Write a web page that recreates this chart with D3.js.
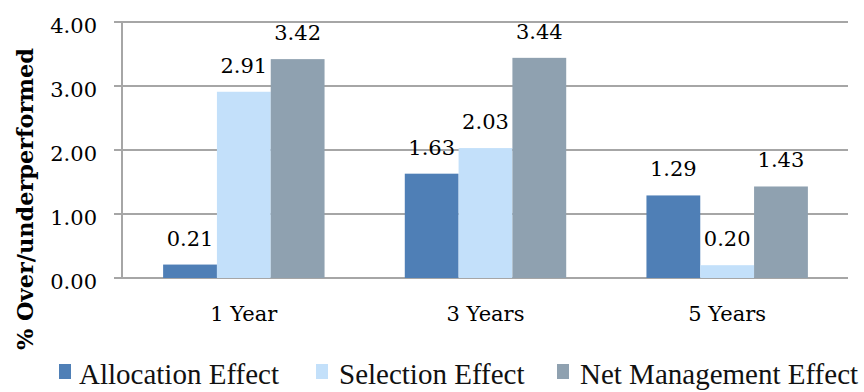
<!DOCTYPE html>
<html>
<head>
<meta charset="utf-8">
<script src="https://cdn.jsdelivr.net/npm/d3@7"></script>
<style>
  html, body { margin: 0; padding: 0; background: #fff; }
  svg { display: block; }
</style>
</head>
<body>
<svg id="chart" width="864" height="392"></svg>
<script>
const categories = ["1 Year", "3 Years", "5 Years"];
const seriesNames = ["Allocation Effect", "Selection Effect", "Net Management Effect"];
const allocation = [0.21, 1.63, 1.29];
const selection = [2.91, 2.03, 0.20];
const netManagement = [3.42, 3.44, 1.43];
const yTicks = [0, 1, 2, 3, 4];
const yTitle = "% Over/underperformed";

const colors = ["#4f7fb6", "#c3e0fa", "#8fa1b0"];
const seriesValues = [allocation, selection, netManagement];

const svg = d3.select("#chart");
const plotLeft = 123, plotRight = 848, plotTop = 22, plotBottom = 278;
const font = "'DejaVu Serif', serif";
const legendFont = "'Liberation Serif', 'Times New Roman', serif";

const x0 = d3.scaleBand().domain(categories).range([plotLeft, plotRight]).paddingInner(0).paddingOuter(0);
const bw = x0.bandwidth();
const x1 = d3.scaleBand().domain(seriesNames).range([bw * 0.166, bw * 0.834]).padding(0);
const y = d3.scaleLinear().domain([0, 4]).range([plotBottom, plotTop]);

// gridlines
svg.append("g").selectAll("line").data(yTicks).join("line")
  .attr("x1", 114).attr("x2", plotRight)
  .attr("y1", d => y(d)).attr("y2", d => y(d))
  .attr("stroke", "#a6a6a6").attr("stroke-width", 2);

// vertical axis line
svg.append("line").attr("x1", plotLeft - 1).attr("x2", plotLeft - 1)
  .attr("y1", y(4) - 1).attr("y2", y(0) + 1)
  .attr("stroke", "#a6a6a6").attr("stroke-width", 2);

// tick labels
svg.append("g").selectAll("text").data(yTicks).join("text")
  .attr("x", 97).attr("y", d => y(d) + 11)
  .attr("text-anchor", "end")
  .attr("font-family", font).attr("font-size", 21).attr("fill", "#000")
  .text(d => d3.format(".2f")(d));

// bars
const rows = categories.map((c, i) => ({ cat: c, vals: seriesNames.map((s, j) => ({ s, j, v: seriesValues[j][i] })) }));
const groups = svg.append("g").selectAll("g").data(rows).join("g")
  .attr("transform", d => `translate(${x0(d.cat)},0)`);
groups.selectAll("rect").data(d => d.vals).join("rect")
  .attr("x", d => x1(d.s)).attr("width", x1.bandwidth())
  .attr("y", d => y(d.v)).attr("height", d => y(0) - y(d.v))
  .attr("fill", d => colors[d.j]);
groups.selectAll("text").data(d => d.vals).join("text")
  .attr("x", d => x1(d.s) + x1.bandwidth() / 2)
  .attr("y", d => y(d.v) - 19)
  .attr("text-anchor", "middle")
  .attr("font-family", font).attr("font-size", 21).attr("fill", "#000")
  .text(d => d3.format(".2f")(d.v));

// category labels
svg.append("g").selectAll("text").data(categories).join("text")
  .attr("x", d => x0(d) + bw / 2).attr("y", plotBottom + 43)
  .attr("text-anchor", "middle")
  .attr("font-family", font).attr("font-size", 21).attr("fill", "#000")
  .text(d => d);

// y title
svg.append("text")
  .attr("transform", "translate(33,199) rotate(-90)")
  .attr("text-anchor", "middle")
  .attr("font-family", font).attr("font-size", 22).attr("font-weight", "bold")
  .attr("textLength", 302).attr("lengthAdjust", "spacingAndGlyphs")
  .text(yTitle);

// legend
const legendItems = [
  { name: seriesNames[0], sx: 59, tx: 79 },
  { name: seriesNames[1], sx: 316, tx: 339 },
  { name: seriesNames[2], sx: 557, tx: 580 }
];
const lg = svg.append("g");
lg.selectAll("rect").data(legendItems).join("rect")
  .attr("x", d => d.sx).attr("y", 364).attr("width", 12).attr("height", 15)
  .attr("fill", (d, i) => colors[i]);
lg.selectAll("text").data(legendItems).join("text")
  .attr("x", d => d.tx).attr("y", 384)
  .attr("font-family", legendFont).attr("font-size", 29).attr("fill", "#111")
  .text(d => d.name);
</script>
</body>
</html>
